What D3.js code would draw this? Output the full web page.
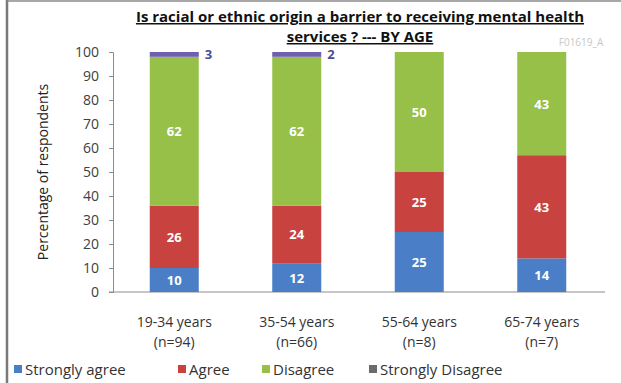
<!DOCTYPE html>
<html><head><meta charset="utf-8">
<script src="https://cdn.jsdelivr.net/npm/d3@7"></script>
<style>body{margin:0;background:#fff;} text{font-family:"Open Sans",sans-serif;}</style>
</head><body>
<svg id="c" width="621" height="383"></svg>
<script>
const categories = ["19-34 years|(n=94)", "35-54 years|(n=66)", "55-64 years|(n=8)", "65-74 years|(n=7)"];
const seriesNames = ["Strongly agree", "Agree", "Disagree", "Strongly Disagree"];
const stronglyAgree = [10, 12, 25, 14];
const agree = [26, 24, 25, 43];
const disagree = [62, 62, 50, 43];
const stronglyDisagree = [3, 2, 0, 0];
const yTicks = [0, 10, 20, 30, 40, 50, 60, 70, 80, 90, 100];
const colors = ["#4a7ec6", "#c8423f", "#97c049", "#6f5fae"];
const legendColors = ["#4a7ec6", "#c8423f", "#97c049", "#6b6b6b"];

const svg = d3.select("#c");
const W = 621, H = 383;
svg.append("rect").attr("x",0).attr("y",0).attr("width",W).attr("height",H).attr("fill","#fff");
svg.append("line").attr("x1",7).attr("x2",7).attr("y1",0).attr("y2",H).attr("stroke","#7a7a7a").attr("stroke-width",2.5);
svg.append("line").attr("x1",7).attr("x2",W).attr("y1",1).attr("y2",1).attr("stroke","#8a8a8a").attr("stroke-width",1.5);

const x = d3.scaleBand().domain(categories).range([113, 603]).paddingInner(0.6).paddingOuter(0.3);
const y = d3.scaleLinear().domain([0, 100]).range([292, 52]).clamp(true);

const rows = categories.map((c, i) => ({cat: c, vals: [stronglyAgree[i], agree[i], disagree[i], stronglyDisagree[i]]}));

const yAxis = d3.axisLeft(y).tickValues(yTicks).tickSize(4).tickPadding(10);
const ga = svg.append("g").attr("transform","translate(113,0)").call(yAxis);
ga.select(".domain").attr("stroke","#8c8c8c");
ga.selectAll(".tick line").attr("stroke","#8c8c8c");
ga.selectAll(".tick text").attr("font-size",14).attr("fill","#404040").attr("font-family","Open Sans, sans-serif");

svg.append("line").attr("x1",109).attr("x2",605).attr("y1",y(0)).attr("y2",y(0)).attr("stroke","#8c8c8c");

rows.forEach(r => {
  let acc = 0;
  r.vals.forEach((v, k) => {
    if (v <= 0) return;
    const y0 = y(acc), y1 = y(acc + v);
    svg.append("rect").attr("x", x(r.cat)).attr("width", x.bandwidth())
      .attr("y", y1).attr("height", y0 - y1).attr("fill", colors[k]);
    if (k < 3) {
      svg.append("text").attr("x", x(r.cat) + x.bandwidth()/2).attr("y", (y0 + y1)/2 + 5)
        .attr("text-anchor","middle").attr("font-size",13).attr("font-weight","bold").attr("fill","#fff").text(v);
    } else {
      svg.append("text").attr("x", x(r.cat) + x.bandwidth() + 6).attr("y", y1 + 7)
        .attr("font-size",13).attr("font-weight","bold").attr("fill","#4b4b96").text(v);
    }
    acc += v;
  });
});

categories.forEach(c => {
  const parts = c.split("|");
  const cx = x(c) + x.bandwidth()/2;
  svg.append("text").attr("x",cx).attr("y",327).attr("text-anchor","middle").attr("font-size",14).attr("fill","#333").text(parts[0]);
  svg.append("text").attr("x",cx).attr("y",347).attr("text-anchor","middle").attr("font-size",14).attr("fill","#333").text(parts[1]);
});

svg.append("text").attr("transform","translate(48,172) rotate(-90)").attr("text-anchor","middle")
  .attr("font-size",14).attr("fill","#222").text("Percentage of respondents");

svg.append("text").attr("x",360).attr("y",22).attr("text-anchor","middle").attr("font-size",15).attr("font-weight","bold")
  .attr("fill","#111").attr("text-decoration","underline").text("Is racial or ethnic origin a barrier to receiving mental health");
svg.append("text").attr("x",360).attr("y",42).attr("text-anchor","middle").attr("font-size",15).attr("font-weight","bold")
  .attr("fill","#111").attr("text-decoration","underline").text("services ?  --- BY AGE");

svg.append("text").attr("x",581).attr("y",46).attr("text-anchor","middle").attr("font-size",10).attr("fill","#c8c8c8").text("F01619_A");

const legX = [14, 178, 262, 369];
seriesNames.forEach((n, i) => {
  svg.append("rect").attr("x",legX[i]).attr("y",365).attr("width",8).attr("height",8).attr("fill",legendColors[i]);
  svg.append("text").attr("x",legX[i]+11).attr("y",375).attr("font-size",15).attr("fill","#333").text(n);
});
</script>
</body></html>
